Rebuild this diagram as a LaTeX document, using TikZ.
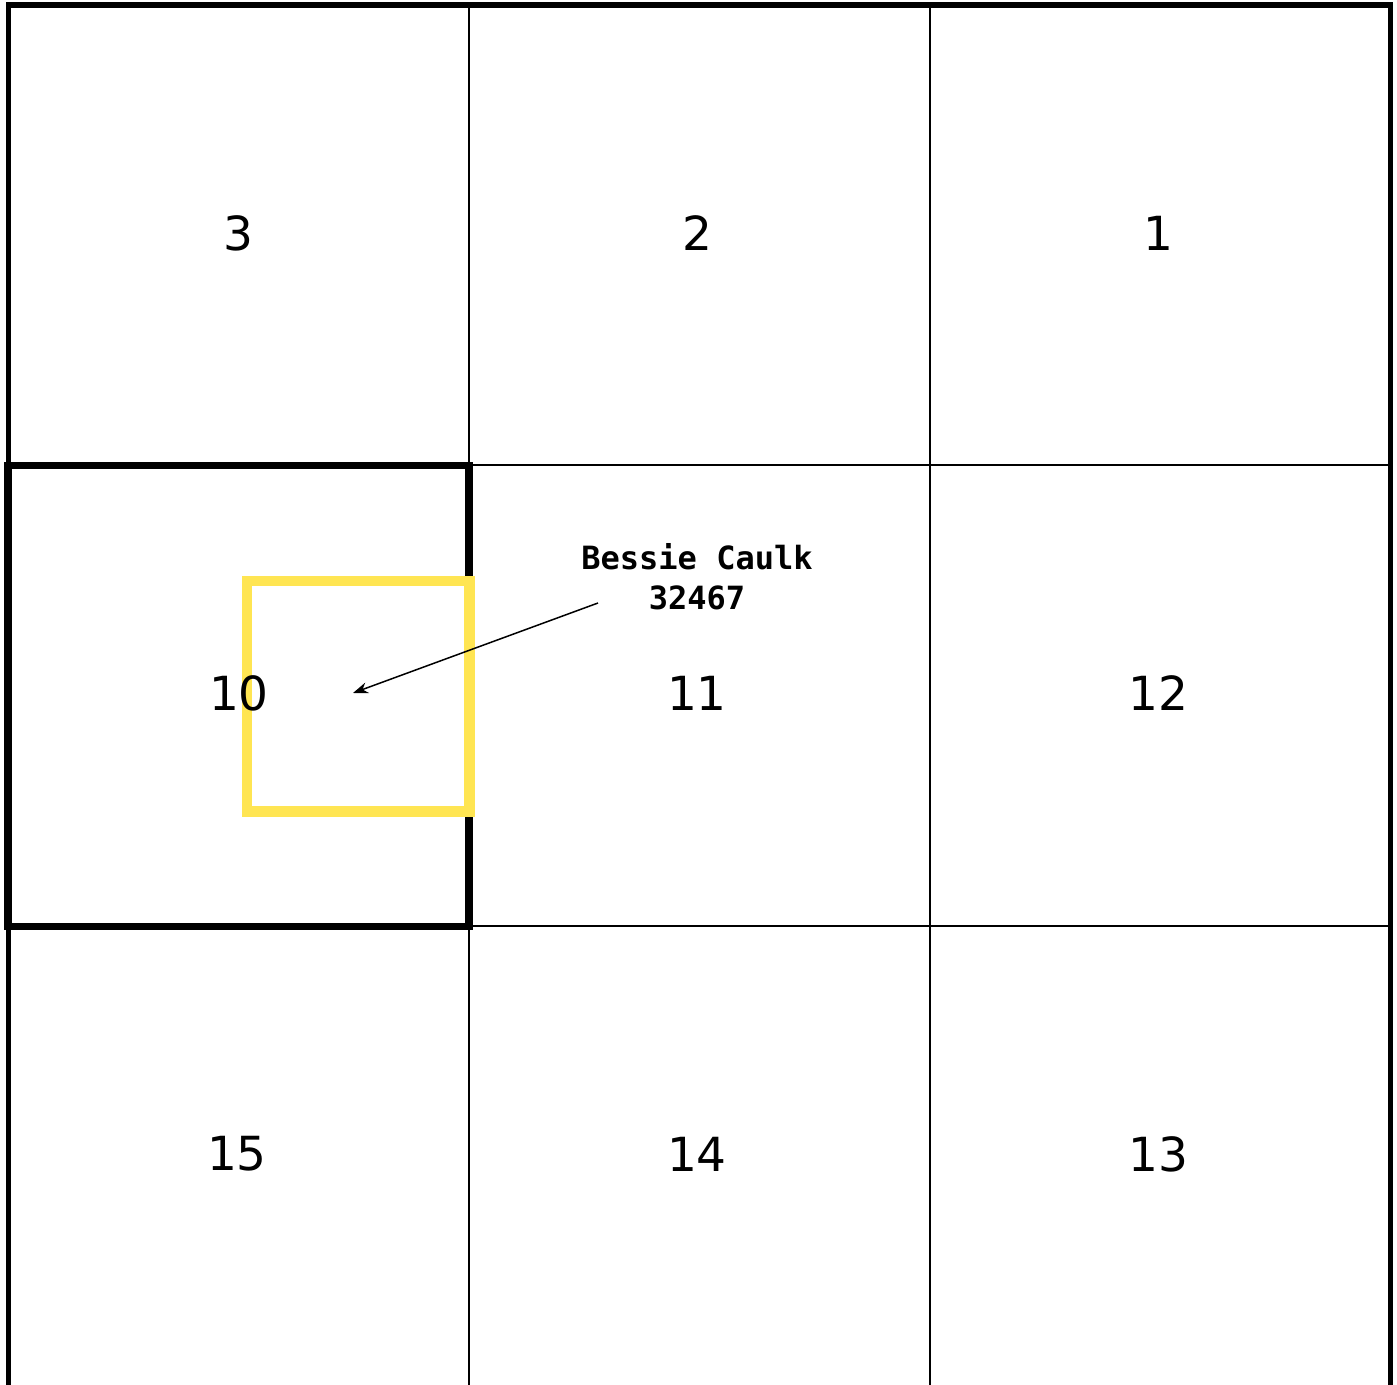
\documentclass[tikz,border=0pt]{standalone}
\usepackage{fontspec}
\setmainfont{DejaVu Sans}
\newfontfamily\labelmono{DejaVu Sans Mono}
\usetikzlibrary{arrows.meta}
\definecolor{hiyellow}{RGB}{255,229,82}
\begin{document}
\begin{tikzpicture}[x=0.5pt,y=-0.5pt,
  thinline/.style={line width=1pt,black},
  outerline/.style={line width=2.6pt,black},
  selbox/.style={line width=3.6pt,black},
  yelbox/.style={line width=5.2pt,hiyellow},
  cellnum/.style={font=\fontsize{23.5}{28}\selectfont,inner sep=0pt},
  tag/.style={font=\labelmono\bfseries\fontsize{16}{20}\selectfont,align=center,inner sep=0pt},
  pointer/.style={line width=0.75pt,-{Stealth[length=7.5pt,width=5.5pt]}}]
\useasboundingbox (0,0) rectangle (1397,1385);
\clip (0,0) rectangle (1397,1385);
\fill[white] (0,0) rectangle (1397,1385);
% grid
\draw[thinline] (469,5) -- (469,1400);
\draw[thinline] (930,5) -- (930,1400);
\draw[thinline] (8,465) -- (1390,465);
\draw[thinline] (8,926) -- (1390,926);
\draw[outerline] (8.5,1400) -- (8.5,5) -- (1390.5,5) -- (1390.5,1400);
% selected cell
\draw[selbox] (8,465.5) rectangle (469,926.5);
% yellow highlight
\draw[yelbox] (247,581) rectangle (469.5,811.5);
% cell numbers
\node[cellnum] (n3) at (238,233) {3};
\node[cellnum] (n2) at (697,233) {2};
\node[cellnum] (n1) at (1158,233) {1};
\node[cellnum] (n10) at (239,693) {10};
\node[cellnum] (n11) at (697,693) {11};
\node[cellnum] (n12) at (1158,693) {12};
\node[cellnum] (n15) at (237,1154) {15};
\node[cellnum] (n14) at (697,1154) {14};
\node[cellnum] (n13) at (1158,1154) {13};
% label and pointer
\node[tag] (lbl) at (697,577) {Bessie Caulk\\32467};
\coordinate (from) at (598,603);
\coordinate (to) at (353,693);
\draw[pointer] (from) -- (to);
\end{tikzpicture}
\end{document}
